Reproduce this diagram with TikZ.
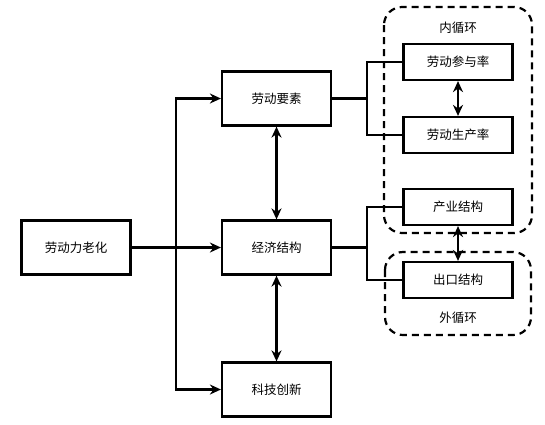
\documentclass[tikz,border=0pt]{standalone}
\usepackage{fontspec}
\setmainfont{Noto Sans CJK SC}
\usetikzlibrary{arrows.meta}

\tikzset{
    box/.style={draw, line width=2.2pt, minimum width=109pt, minimum height=54pt, inner sep=0pt, font=\fontsize{12.5}{15}\selectfont},
    sbox/.style={box, minimum height=36pt},
    cyclebox/.style={line width=2.2pt, dash pattern=on 7pt off 5pt, rounded corners=18pt},
    arr/.style={line width=2.2pt, -{Stealth[length=11pt,width=10pt]}},
    dbl/.style={line width=2.2pt, {Stealth[length=11pt,width=10pt]}-{Stealth[length=11pt,width=10pt]}},
    link/.style={line width=2.2pt},
}

\begin{document}
\begin{tikzpicture}[x=1pt,y=-1pt]
    \useasboundingbox (0,0) rectangle (545,424);
    % dashed groups
    \draw[cyclebox] (384,7) rectangle (532,233);
    \draw[cyclebox] (385,252) rectangle (531,335);
    \node[font=\fontsize{12.5}{15}\selectfont] (inner) at (458,28) {内循环};
    \node[font=\fontsize{12.5}{15}\selectfont] (outer) at (458,318) {外循环};
    % boxes
    \node[box] (aging) at (76,247.5) {劳动力老化};
    \node[box] (labor) at (276.5,98.5) {劳动要素};
    \node[box] (econ) at (276.5,247.5) {经济结构};
    \node[box] (tech) at (276.5,389.5) {科技创新};
    \node[sbox] (part) at (458,62) {劳动参与率};
    \node[sbox] (prod) at (458,135) {劳动生产率};
    \node[sbox] (ind) at (458,207) {产业结构};
    \node[sbox] (exp) at (458,280) {出口结构};
    \coordinate (split) at (176,247.5);
    \coordinate (lsplit) at (367,98.5);
    \coordinate (esplit) at (367,247.5);
    % arrows
    \draw[arr] (aging) -- (econ);
    \draw[arr] (split) |- (labor);
    \draw[arr] (split) |- (tech);
    \draw[dbl] (labor) -- (econ);
    \draw[dbl] (econ) -- (tech);
    \draw[link] (labor) -- (lsplit);
    \draw[link] (part) -| (lsplit) |- (prod);
    \draw[link] (econ) -- (esplit);
    \draw[link] (ind) -| (esplit) |- (exp);
    \draw[dbl] (part) -- (prod);
    \draw[dbl] (ind) -- (exp);
\end{tikzpicture}
\end{document}
